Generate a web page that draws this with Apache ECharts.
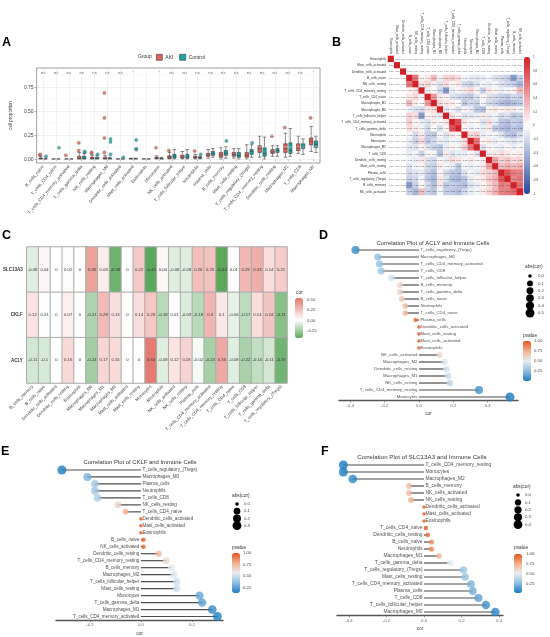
<!DOCTYPE html>
<html>
<head>
<meta charset="utf-8">
<script src="https://cdn.jsdelivr.net/npm/echarts@6/dist/echarts.min.js"></script>
<style>html,body{margin:0;padding:0;background:#fff}#main{width:550px;height:637px}</style>
</head>
<body>
<div id="main"></div>
<script>
var FONT = '"Liberation Sans", Arial, sans-serif';

// ---- A: cell proportion per group
var cellsA = ['B_cells_naive','T_cells_CD4_naive','T_cells_CD4_memory_activated','T_cells_gamma_delta','NK_cells_resting','Macrophages_M0','Dendritic_cells_activated','Mast_cells_activated','Eosinophils','Monocytes','NK_cells_activated','T_cells_follicular_helper','Neutrophils','Plasma_cells','B_cells_memory','Mast_cells_resting','T_cells_regulatory_(Tregs)','T_cells_CD4_memory_resting','Dendritic_cells_resting','Macrophages_M1','T_cells_CD8','Macrophages_M2'];
var sigA = ['ns','ns','ns','ns','ns','ns','ns','*','','*','ns','ns','ns','ns','ns','ns','ns','ns','ns','ns','ns','*'];
// [min, Q1, median, Q3, max]
var akiBox = [[0,0,0.005,0.01,0.025],[0,0,0,0,0],[0,0,0,0,0],[0,0,0.01,0.03,0.07],[0,0,0.01,0.02,0.04],[0,0,0.005,0.02,0.04],[0,0,0,0,0],[0,0,0,0.005,0.01],[0,0,0,0,0],[0,0.005,0.01,0.02,0.035],[0,0.005,0.02,0.035,0.07],[0,0.01,0.02,0.04,0.08],[0,0.01,0.02,0.03,0.05],[0.01,0.03,0.045,0.06,0.1],[0,0.02,0.045,0.07,0.12],[0.01,0.03,0.05,0.07,0.11],[0,0.02,0.04,0.07,0.15],[0.02,0.07,0.11,0.14,0.24],[0.03,0.06,0.075,0.1,0.14],[0.02,0.07,0.11,0.16,0.27],[0.06,0.09,0.12,0.16,0.24],[0.08,0.15,0.185,0.22,0.34]];
var ctrlBox = [[0,0,0,0,0.01],[0,0,0,0,0],[0,0,0,0,0],[0,0,0.01,0.03,0.06],[0,0,0.01,0.02,0.04],[0,0,0.005,0.01,0.02],[0,0,0,0,0],[0,0,0,0.005,0.01],[0,0,0,0,0],[0,0,0.005,0.01,0.02],[0,0.01,0.03,0.05,0.1],[0,0.01,0.025,0.05,0.1],[0,0.01,0.015,0.02,0.03],[0.02,0.04,0.06,0.08,0.11],[0.01,0.04,0.06,0.09,0.13],[0,0.02,0.04,0.07,0.11],[0.02,0.05,0.08,0.1,0.15],[0,0.03,0.06,0.12,0.23],[0.03,0.07,0.09,0.11,0.14],[0.03,0.06,0.09,0.17,0.32],[0.05,0.11,0.13,0.16,0.21],[0.07,0.12,0.155,0.19,0.24]];
var akiOut = [[0,0.04],[0,0.05],[2,0.04],[3,0.09],[3,0.17],[4,0.06],[4,0.07],[5,0.07],[5,0.22],[5,0.43],[5,0.69],[9,0.12],[10,0.09],[12,0.085],[18,0.24],[19,0.33],[21,0.43]];
var ctrlOut = [[0,0.03],[1,0.12],[3,0.07],[3,0.08],[4,0.05],[5,0.05],[5,0.18],[5,0.21],[6,0.02],[7,0.1],[7,0.11],[7,0.2],[12,0.05],[14,0.19],[16,0.17]];
var yTicksA = [0, 0.25, 0.5, 0.75];
var yMinorA = [0.125, 0.375, 0.625, 0.875];

// ---- B: correlation among immune cells (lower triangle, row i holds cols 0..i-1)
var corNames = ['Eosinophils','Mast_cells_activated','Dendritic_cells_activated','B_cells_naive','NK_cells_resting','T_cells_CD4_memory_resting','T_cells_CD4_naive','Macrophages_M1','Macrophages_M0','T_cells_follicular_helper','T_cells_CD4_memory_activated','T_cells_gamma_delta','Neutrophils','Monocytes','Macrophages_M2','T_cells_CD8','Dendritic_cells_resting','Mast_cells_resting','Plasma_cells','T_cells_regulatory_(Tregs)','B_cells_memory','NK_cells_activated'];
var corLower = [
  [],
  [0],
  [0,0],
  [0,0,0],
  [0,0,0,0.62],
  [0,0,0,0.05,0.12],
  [0,0,0,0.10,0.18,-0.05],
  [0,0,0,0.32,0.08,0.02,0.45],
  [0,0,0,-0.08,-0.15,-0.20,0.10,0.15],
  [0,0,0,0.20,0.15,-0.55,0.05,0.10,-0.12],
  [0,0,0,0.22,0.05,-0.10,-0.15,0.08,-0.05,0.12],
  [0,0,0,0.15,0.10,-0.05,-0.20,0.02,-0.18,0.05,0.78],
  [0,0,0,-0.05,-0.20,0.10,-0.25,-0.30,0.05,-0.15,0.10,0.05],
  [0,0,0,-0.10,-0.25,0.18,-0.30,-0.20,-0.10,-0.12,-0.05,-0.08,0.15],
  [0,0,0,-0.12,-0.15,0.05,-0.15,-0.25,-0.30,-0.10,0.05,-0.05,0.20,0.62],
  [0,0,0,-0.10,-0.05,-0.25,0.05,-0.05,-0.35,0.10,-0.15,-0.10,-0.10,0.05,-0.15],
  [0,0,0,-0.05,-0.10,0.10,-0.15,-0.20,0.05,-0.10,0.15,0.10,-0.05,0.10,0.05,0.08],
  [0,0,0,-0.15,-0.05,0.05,-0.20,-0.25,0.10,-0.05,-0.10,-0.30,-0.05,-0.10,-0.05,0.10,0.40],
  [0,0,0,-0.20,-0.15,-0.10,-0.25,-0.35,0.05,-0.20,-0.30,-0.35,-0.15,-0.05,-0.10,0.15,0.20,0.30],
  [0,0,0,-0.25,-0.20,-0.05,-0.30,-0.40,0.10,-0.15,-0.35,-0.40,-0.30,-0.10,0.05,0.10,0.25,0.35,0.75],
  [0,0,0,-0.55,-0.25,0.05,-0.20,-0.35,0.10,-0.30,-0.25,-0.30,-0.35,-0.15,-0.10,0.05,0.15,0.30,0.60,0.55],
  [0,0,0,-0.25,-0.40,0.30,-0.25,-0.30,-0.05,-0.25,-0.30,-0.35,-0.20,-0.10,-0.05,0.10,0.20,0.35,0.55,0.60,0.65]
];
var corTicksB = [1,0.8,0.6,0.4,0.2,0,-0.2,-0.4,-0.6,-0.8,-1];

// ---- C: gene vs immune cell correlation
var genesC = ['SLC13A3','CKLF','ACLY'];
var cellsC = ['B_cells_memory','B_cells_naive','Dendritic_cells_activated','Dendritic_cells_resting','Eosinophils','Macrophages_M0','Macrophages_M1','Macrophages_M2','Mast_cells_activated','Mast_cells_resting','Monocytes','Neutrophils','NK_cells_activated','NK_cells_resting','Plasma_cells','T_cells_CD4_memory_activated','T_cells_CD4_memory_resting','T_cells_CD4_naive','T_cells_CD8','T_cells_follicular_helper','T_cells_gamma_delta','T_cells_regulatory_(Tregs)'];
var slcCor  = [-0.08,0.04,0,0.02,0,0.38,0.08,-0.38,0,0.22,-0.43,0.04,-0.08,-0.08,0.26,0.25,-0.43,0.01,0.29,0.33,0.14,0.21];
var cklfCor = [0.12,0.01,0,0.07,0,-0.21,0.28,0.13,0,0.14,0.23,-0.18,0.01,-0.09,-0.18,0.3,0.1,-0.06,-0.17,0.14,0.24,-0.31];
var aclyCor = [-0.11,-0.1,0,0.16,0,-0.24,0.17,0.15,0,0,0.53,-0.08,0.12,0.18,-0.02,-0.23,0.35,-0.08,-0.22,-0.16,-0.11,-0.37];
var cTicks = [0.5,0.25,0,-0.25];

// ---- D: ACLY
var namesD = ['T_cells_regulatory_(Tregs)','Macrophages_M0','T_cells_CD4_memory_activated','T_cells_CD8','T_cells_follicular_helper','B_cells_memory','T_cells_gamma_delta','B_cells_naive','Neutrophils','T_cells_CD4_naive','Plasma_cells','Dendritic_cells_activated','Mast_cells_resting','Mast_cells_activated','Eosinophils','NK_cells_activated','Macrophages_M2','Dendritic_cells_resting','Macrophages_M1','NK_cells_resting','T_cells_CD4_memory_resting','Monocytes'];
var corD = [-0.37,-0.24,-0.23,-0.22,-0.16,-0.11,-0.11,-0.10,-0.08,-0.08,-0.02,0,0,0,0,0.12,0.15,0.16,0.17,0.18,0.35,0.53];
var pD   = [0.07,0.26,0.28,0.30,0.45,0.61,0.61,0.64,0.71,0.71,0.93,1,1,1,1,0.58,0.48,0.45,0.43,0.40,0.09,0.008];

// ---- E: CKLF
var namesE = ['T_cells_regulatory_(Tregs)','Macrophages_M0','Plasma_cells','Neutrophils','T_cells_CD8','NK_cells_resting','T_cells_CD4_naive','Dendritic_cells_activated','Mast_cells_activated','Eosinophils','B_cells_naive','NK_cells_activated','Dendritic_cells_resting','T_cells_CD4_memory_resting','B_cells_memory','Macrophages_M2','T_cells_follicular_helper','Mast_cells_resting','Monocytes','T_cells_gamma_delta','Macrophages_M1','T_cells_CD4_memory_activated'];
var corE = [-0.31,-0.21,-0.18,-0.18,-0.17,-0.09,-0.06,0,0,0,0.01,0.01,0.07,0.10,0.12,0.13,0.14,0.14,0.23,0.24,0.28,0.30];
var pE   = [0.14,0.32,0.40,0.40,0.43,0.67,0.78,1,1,1,0.96,0.96,0.75,0.64,0.58,0.55,0.51,0.51,0.28,0.26,0.19,0.15];

// ---- F: SLC13A3
var namesF = ['T_cells_CD4_memory_resting','Monocytes','Macrophages_M2','B_cells_memory','NK_cells_activated','NK_cells_resting','Dendritic_cells_activated','Mast_cells_activated','Eosinophils','T_cells_CD4_naive','Dendritic_cells_resting','B_cells_naive','Neutrophils','Macrophages_M1','T_cells_gamma_delta','T_cells_regulatory_(Tregs)','Mast_cells_resting','T_cells_CD4_memory_activated','Plasma_cells','T_cells_CD8','T_cells_follicular_helper','Macrophages_M0'];
var corF = [-0.43,-0.43,-0.38,-0.08,-0.08,-0.07,0,0,0,0.01,0.02,0.04,0.04,0.08,0.14,0.21,0.22,0.25,0.26,0.29,0.33,0.38];
var pF   = [0.035,0.035,0.07,0.71,0.71,0.75,1,1,1,0.96,0.93,0.86,0.86,0.71,0.51,0.32,0.30,0.24,0.22,0.17,0.11,0.07];

var sizeLegD = [0,0.1,0.2,0.3,0.4,0.5];
var sizeLegE = [0,0.1,0.2,0.3];
var sizeLegF = [0,0.1,0.2,0.3,0.4];
var pTicks = [1,0.75,0.5,0.25];

// ------------------------------------------------------------
var AKI_COL = '#E1625A', CTRL_COL = '#1DA3A4';
var P_COLORS = ['#1b7cc0','#8dbde0','#e9edf0','#f2b08f','#e3561b'];
var C_COLORS = ['#5ba85b','#84be84','#add3ad','#d6e9d6','#ffffff','#fae4e2','#f4c9c5','#eeaea8','#e8938b','#e2786e'];

function dotSize(r, maxAbs) { return 3.6 + 5.4 * Math.sqrt(r / maxAbs); }
function absMax(arr) { return Math.max.apply(null, arr.map(Math.abs)); }

// correlation matrix B
var heatB = [];
for (var i = 0; i < corNames.length; i++) {
  for (var j = 0; j < corNames.length; j++) {
    var v = i === j ? 1 : (j < i ? corLower[i][j] : corLower[j][i]);
    heatB.push([j, i, v]);
  }
}
var heatC = [];
[slcCor, cklfCor, aclyCor].forEach(function (row, r) {
  row.forEach(function (v, c) { heatC.push([c, r, v]); });
});

var graphics = [];
function txt(x, y, s, st) {
  var style = { text: s, fontFamily: FONT, fontSize: 5, fill: '#333', align: 'left', verticalAlign: 'middle' };
  for (var k in st) style[k] = st[k];
  graphics.push({ type: 'text', x: x, y: y, silent: true, style: style });
}
function dot(x, y, d) {
  graphics.push({ type: 'circle', silent: true, shape: { cx: x, cy: y, r: d / 2 }, style: { fill: '#000' } });
}

// panel letters
[['A',2,43],['B',332,43],['C',2,236],['D',319,236],['E',1,452],['F',321,452]].forEach(function (p) {
  txt(p[1], p[2], p[0], { fontSize: 12.5, fontWeight: 'bold', fill: '#000' });
});
txt(138, 57, 'Group', { fontSize: 5 });

// titles
txt(433, 243, 'Correlation Plot of ACLY and Immune Cells', { fontSize: 5.9, align: 'center', fill: '#333' });
txt(140, 462, 'Correlation Plot of CKLF and Immune Cells', { fontSize: 5.9, align: 'center', fill: '#333' });
txt(422, 457, 'Correlation Plot of SLC13A3 and Immune Cells', { fontSize: 6.2, align: 'center', fill: '#333' });

// B colorbar labels
corTicksB.forEach(function (v) {
  txt(533, 57 + (1 - v) / 2 * 137, String(v), { fontSize: 3, fill: '#444' });
});
// C colorbar legend
txt(296, 293, 'cor', { fontSize: 4.8 });
cTicks.forEach(function (v) {
  txt(307, 298 + (0.55 - v) / (0.55 + 0.43) * 40, v.toFixed(2), { fontSize: 4.3, fill: '#444' });
});

function sizeLegend(tx, ty, dx, lx, y0, step, vals, maxAbs) {
  txt(tx, ty, 'abs(cor)', { fontSize: 4.8 });
  vals.forEach(function (v, k) {
    dot(dx, y0 + k * step, dotSize(v, maxAbs));
    txt(lx, y0 + k * step, v.toFixed(1), { fontSize: 4.3, fill: '#444' });
  });
}
function pLegend(tx, ty, lx, top, h, pmin) {
  txt(tx, ty, 'pvalue', { fontSize: 4.8 });
  pTicks.forEach(function (v) {
    txt(lx, top + (1 - v) / (1 - pmin) * h, v.toFixed(2), { fontSize: 4.3, fill: '#444' });
  });
}
var maxD = absMax(corD), maxE = absMax(corE), maxF = absMax(corF);
var pminD = Math.min.apply(null, pD), pminE = Math.min.apply(null, pE), pminF = Math.min.apply(null, pF);
sizeLegend(525, 267, 530, 538, 276, 7.4, sizeLegD, maxD);
pLegend(523, 336, 534, 341, 40, pminD);
sizeLegend(232, 496, 237, 244, 504, 7.2, sizeLegE, maxE);
pLegend(232, 548, 243, 553, 40, pminE);
sizeLegend(513, 487, 518, 525, 495, 7.4, sizeLegF, maxF);
pLegend(514, 548, 526, 554, 39, pminF);

// ------------------------------------------------------------
function valAxisLolli(grid, min, max, ticks) {
  return {
    type: 'value', gridIndex: grid, min: min, max: max,
    axisLine: { show: true, lineStyle: { color: '#555', width: 1.4 } },
    axisTick: { show: true, customValues: ticks, length: 2, lineStyle: { color: '#555', width: 0.6 } },
    axisLabel: { customValues: ticks, fontSize: 4.3, color: '#666', margin: 3, fontFamily: FONT,
      formatter: function (v) { return v.toFixed(1); } },
    splitLine: { show: false },
    name: 'cor', nameLocation: 'middle', nameGap: 11,
    nameTextStyle: { fontSize: 4.8, color: '#444', fontFamily: FONT }
  };
}
function catAxisLolli(grid, names) {
  return { type: 'category', gridIndex: grid, data: names, inverse: true,
    axisLine: { show: false }, axisTick: { show: false }, axisLabel: { show: false }, splitLine: { show: false } };
}
function lolliSeries(ax, names, cor, p, fs, maxAbs) {
  return [
    { type: 'bar', xAxisIndex: ax, yAxisIndex: ax, data: cor, barWidth: 1.2, silent: true, z: 2,
      itemStyle: { color: '#4d4d4d' } },
    { type: 'scatter', xAxisIndex: ax, yAxisIndex: ax, symbolSize: 0, silent: true, z: 3,
      data: names.map(function (n, i) {
        return { value: [0, i], label: { position: cor[i] > 0 ? 'left' : 'right' } };
      }),
      label: { show: true, distance: 1.5, fontSize: fs, color: '#1a1a1a', fontFamily: FONT,
        formatter: function (pr) { return names[pr.dataIndex]; } } },
    { type: 'scatter', xAxisIndex: ax, yAxisIndex: ax, silent: true, z: 4,
      data: cor.map(function (c, i) { return [c, i, p[i]]; }),
      symbolSize: function (v) { return dotSize(Math.abs(v[0]), maxAbs); } }
  ];
}

var series = [
  { name: 'AKI', type: 'boxplot', xAxisIndex: 0, yAxisIndex: 0, data: akiBox, boxWidth: [3, 5.5], z: 3,
    itemStyle: { color: AKI_COL, borderColor: '#3a3a3a', borderWidth: 0.6 } },
  { name: 'Control', type: 'boxplot', xAxisIndex: 0, yAxisIndex: 0, data: ctrlBox, boxWidth: [3, 5.5], z: 3,
    itemStyle: { color: CTRL_COL, borderColor: '#3a3a3a', borderWidth: 0.6 } },
  { name: 'AKI out', type: 'scatter', xAxisIndex: 0, yAxisIndex: 0, data: akiOut, symbolSize: 3.2, symbolOffset: [-3, 0], z: 4,
    itemStyle: { color: AKI_COL, borderColor: '#555', borderWidth: 0.4 } },
  { name: 'Control out', type: 'scatter', xAxisIndex: 0, yAxisIndex: 0, data: ctrlOut, symbolSize: 3.2, symbolOffset: [3, 0], z: 4,
    itemStyle: { color: CTRL_COL, borderColor: '#555', borderWidth: 0.4 } },
  { name: 'sig', type: 'scatter', xAxisIndex: 0, yAxisIndex: 0, symbolSize: 0, z: 1, silent: true,
    data: sigA.map(function (s, i) { return [i, 0.905]; }),
    label: { show: true, position: 'inside', fontSize: 4.4, color: '#333', fontFamily: FONT,
      formatter: function (pr) { return sigA[pr.dataIndex]; } },
    markLine: { silent: true, symbol: ['none', 'none'], animation: false, label: { show: false },
      lineStyle: { color: '#e4e4e4', width: 0.5, type: 'solid' },
      data: cellsA.map(function (c, i) { return { xAxis: i }; })
        .concat(yTicksA.map(function (v) { return { yAxis: v }; }))
        .concat(yMinorA.map(function (v) { return { yAxis: v, lineStyle: { color: '#f1f1f1', width: 0.4 } }; })) } },
  { type: 'heatmap', xAxisIndex: 1, yAxisIndex: 1, data: heatB, silent: true,
    itemStyle: { borderWidth: 0 },
    label: { show: true, fontSize: 2.4, color: '#555', fontFamily: FONT,
      formatter: function (pr) { return pr.value[2].toFixed(2); } } },
  { type: 'heatmap', xAxisIndex: 2, yAxisIndex: 2, data: heatC, silent: true,
    itemStyle: { borderColor: '#ababab', borderWidth: 1 },
    label: { show: true, fontSize: 4.2, color: '#333', fontFamily: FONT,
      formatter: function (pr) { return String(pr.value[2]); } } }
].concat(lolliSeries(3, namesD, corD, pD, 4.3, maxD))
 .concat(lolliSeries(4, namesE, corE, pE, 4.6, maxE))
 .concat(lolliSeries(5, namesF, corF, pF, 4.9, maxF));

function pMap(si, pmin, left, top, h) {
  return { type: 'continuous', seriesIndex: si, dimension: 2, min: pmin, max: 1,
    inRange: { color: P_COLORS }, left: left, top: top, itemWidth: 8, itemHeight: h,
    padding: 0, calculable: false, orient: 'vertical' };
}

var option = {
  animation: false,
  backgroundColor: '#fff',
  textStyle: { fontFamily: FONT },
  legend: { data: [
      { name: 'AKI', itemStyle: { color: AKI_COL, borderColor: '#3a3a3a', borderWidth: 0.6 } },
      { name: 'Control', itemStyle: { color: CTRL_COL, borderColor: '#3a3a3a', borderWidth: 0.6 } }
    ], left: 156, top: 54, itemWidth: 6, itemHeight: 6, itemGap: 6,
    icon: 'rect', padding: 0, selectedMode: false,
    textStyle: { fontSize: 5, color: '#333', fontFamily: FONT, padding: [0, 0, 0, -2] } },
  grid: [
    { left: 24, top: 68, width: 296, height: 95, show: true, borderColor: '#777', borderWidth: 0.7, backgroundColor: '#fff' },
    { left: 388, top: 56, width: 135, height: 139 },
    { left: 26, top: 247, width: 261, height: 136 },
    { left: 339, top: 246.5, width: 179, height: 154 },
    { left: 56, top: 466.5, width: 167, height: 154 },
    { left: 337, top: 461.5, width: 166, height: 154 }
  ],
  xAxis: [
    { type: 'category', gridIndex: 0, data: cellsA,
      axisLine: { show: false },
      axisTick: { show: true, alignWithLabel: true, length: 2, lineStyle: { color: '#555', width: 0.5 } },
      axisLabel: { rotate: 50, fontSize: 4.3, color: '#333', interval: 0, margin: 3, fontFamily: FONT },
      splitLine: { show: false } },
    { type: 'category', gridIndex: 1, data: corNames, position: 'top',
      axisLine: { show: false }, axisTick: { show: false }, splitLine: { show: false },
      axisLabel: { rotate: 90, fontSize: 3.1, color: '#333', interval: 0, margin: 2, fontFamily: FONT } },
    { type: 'category', gridIndex: 2, data: cellsC,
      axisLine: { show: false }, axisTick: { show: false }, splitLine: { show: false },
      axisLabel: { rotate: 45, fontSize: 4.3, color: '#333', interval: 0, margin: 3, fontFamily: FONT } },
    valAxisLolli(3, -0.466, 0.577, [-0.4, -0.2, 0, 0.2, 0.4]),
    valAxisLolli(4, -0.333, 0.322, [-0.2, 0, 0.2]),
    valAxisLolli(5, -0.464, 0.421, [-0.4, -0.2, 0, 0.2, 0.4])
  ],
  yAxis: [
    { type: 'value', gridIndex: 0, min: -0.04, max: 0.95,
      axisLine: { show: false },
      axisTick: { show: true, customValues: yTicksA, length: 2, lineStyle: { color: '#555', width: 0.5 } },
      axisLabel: { customValues: yTicksA, fontSize: 5, color: '#444', margin: 3, fontFamily: FONT,
        formatter: function (v) { return v.toFixed(2); } },
      splitLine: { show: false },
      name: 'cell proportion', nameLocation: 'middle', nameGap: 17,
      nameTextStyle: { fontSize: 4.5, color: '#333', fontFamily: FONT } },
    { type: 'category', gridIndex: 1, data: corNames, inverse: true,
      axisLine: { show: false }, axisTick: { show: false }, splitLine: { show: false },
      axisLabel: { fontSize: 3.1, color: '#333', interval: 0, margin: 2, fontFamily: FONT } },
    { type: 'category', gridIndex: 2, data: genesC, inverse: true,
      axisLine: { show: false }, axisTick: { show: false }, splitLine: { show: false },
      axisLabel: { fontSize: 4.5, fontWeight: 'bold', color: '#333', margin: 4, fontFamily: FONT } },
    catAxisLolli(3, namesD),
    catAxisLolli(4, namesE),
    catAxisLolli(5, namesF)
  ],
  visualMap: [
    { type: 'continuous', seriesIndex: 5, dimension: 2, min: -1, max: 1,
      inRange: { color: ['#24479e', '#ffffff', '#d61f26'] }, left: 524, top: 57, itemWidth: 6, itemHeight: 137,
      padding: 0, calculable: false, orient: 'vertical' },
    { type: 'continuous', seriesIndex: 6, dimension: 2, min: -0.43, max: 0.55,
      inRange: { color: C_COLORS }, left: 295, top: 298, itemWidth: 8, itemHeight: 40,
      padding: 0, calculable: false, orient: 'vertical' },
    pMap(9, pminD, 523, 341, 40),
    pMap(12, pminE, 232, 553, 40),
    pMap(15, pminF, 514, 554, 39)
  ],
  graphic: graphics,
  series: series
};

var chart = echarts.init(document.getElementById('main'));
chart.setOption(option);
window.onresize = chart.resize;
</script>
</body>
</html>
